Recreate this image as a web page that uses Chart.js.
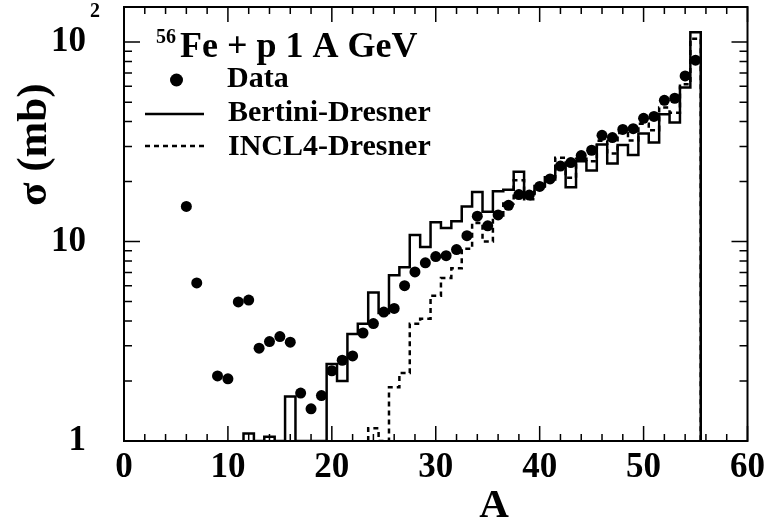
<!DOCTYPE html>
<html><head><meta charset="utf-8">
<script src="https://cdn.jsdelivr.net/npm/chart.js@4.4.0/dist/chart.umd.min.js"></script>
<style>html,body{margin:0;padding:0;background:#fff;}canvas{display:block;}</style>
</head><body>
<canvas id="c" width="771" height="519"></canvas>
<script>
// ---- data ----
const dataA = [6,7,9,10,11,12,13,14,15,16,17,18,19,20,21,22,23,24,25,26,27,28,29,30,31,32,33,34,35,36,37,38,39,40,41,42,43,44,45,46,47,48,49,50,51,52,53,54,55];
const dataSigma = [15.0,6.2,2.12,2.05,4.98,5.09,2.92,3.15,3.34,3.13,1.74,1.45,1.69,2.25,2.54,2.67,3.48,3.88,4.43,4.62,6.01,7.04,7.82,8.41,8.5,9.12,10.7,13.4,12.0,13.6,15.2,17.2,17.1,18.9,20.6,23.9,24.9,27.0,28.7,34.1,33.2,36.5,36.8,41.5,42.4,51.1,52.3,67.7,81.2];

// 0 = bin content below the 1 mb axis minimum
const bertiniA = [12,13,14,15,16,17,18,19,20,21,22,23,24,25,26,27,28,29,30,31,32,33,34,35,36,37,38,39,40,41,42,43,44,45,46,47,48,49,50,51,52,53,54,55];
const bertiniSigma = [1.09,0,1.05,0,1.67,0,0,0,2.43,2.0,3.44,3.87,5.56,4.38,6.77,7.43,10.8,9.4,12.5,11.7,12.65,15.0,17.7,14.1,17.9,18.2,22.4,17.5,19.0,21.0,24.0,18.7,25.3,22.7,30.7,24.6,30.5,27.2,34.8,31.4,43.5,39.5,59.2,112];

const incl4A = [24,25,26,27,28,29,30,31,32,33,34,35,36,37,38,39,40,41,42,43,44,45,46,47,48,49,50,51,52,53,54,55];
const incl4Sigma = [1.16,0,1.86,2.19,3.87,4.1,5.35,6.57,7.34,9.2,12.4,10.0,13.5,15.5,20.3,16.3,18.5,20.5,26.3,20.9,26.0,25.3,32.0,27.6,35.0,32.1,39.0,36.1,47.0,44.3,61.5,104];

// ---- axes ----
const X_MIN = 0, X_MAX = 60;
const Y_MIN = 1, Y_MAX = 150;
const xTickLabels = [0,10,20,30,40,50,60];
const xMinorTicks = [2,4,6,8,12,14,16,18,22,24,26,28,32,34,36,38,42,44,46,48,52,54,56,58];
const yMajorTicks = [1,10,100];
const yMinorTicks = [2,3,4,5,6,7,8,9,20,30,40,50,60,70,80,90];

const SERIF = '"Liberation Serif","Times New Roman",serif';

// histogram outline from bin centres (bin width 1), clipped at the axis minimum like ROOT
function histPoints(A, V) {
  const pts = [{x: A[0] - 0.5, y: Y_MIN}];
  for (let i = 0; i < A.length; i++) {
    const y = Math.max(V[i], Y_MIN);
    pts.push({x: A[i] - 0.5, y: y}, {x: A[i] + 0.5, y: y});
  }
  pts.push({x: A[A.length - 1] + 0.5, y: Y_MIN});
  return pts;
}

const framePlugin = {
  id: 'rootFrame',
  afterDraw(chart) {
    const ctx = chart.ctx, a = chart.chartArea;
    const xs = chart.scales.x, ys = chart.scales.y;
    ctx.save();
    ctx.strokeStyle = '#000';
    ctx.fillStyle = '#000';
    // ticks
    ctx.lineWidth = 1.5;
    ctx.beginPath();
    const xt = (v, len) => { const p = xs.getPixelForValue(v);
      ctx.moveTo(p, a.bottom); ctx.lineTo(p, a.bottom - len);
      ctx.moveTo(p, a.top); ctx.lineTo(p, a.top + len); };
    xTickLabels.forEach(v => xt(v, 15));
    xMinorTicks.forEach(v => xt(v, 7));
    const yt = (v, len) => { const p = ys.getPixelForValue(v);
      ctx.moveTo(a.left, p); ctx.lineTo(a.left + len, p);
      ctx.moveTo(a.right, p); ctx.lineTo(a.right - len, p); };
    yMajorTicks.forEach(v => yt(v, 16));
    yMinorTicks.forEach(v => yt(v, 8));
    ctx.stroke();
    // frame
    ctx.lineWidth = 2;
    ctx.strokeRect(a.left, a.top, a.right - a.left, a.bottom - a.top);

    // y labels
    ctx.font = 'bold 35px ' + SERIF;
    ctx.textAlign = 'right';
    ctx.textBaseline = 'middle';
    ctx.fillText('1', 86, ys.getPixelForValue(1));
    ctx.fillText('10', 86, ys.getPixelForValue(10));
    ctx.fillText('10', 86, ys.getPixelForValue(100));
    ctx.font = 'bold 20px ' + SERIF;
    ctx.textAlign = 'left';
    ctx.textBaseline = 'alphabetic';
    ctx.fillText('2', 90, ys.getPixelForValue(100) - 25);

    // axis titles
    ctx.font = 'bold 41px ' + SERIF;
    ctx.textAlign = 'center';
    ctx.fillText('A', 494, 517);
    ctx.save();
    ctx.translate(46, 206);
    ctx.rotate(-Math.PI / 2);
    ctx.font = 'bold 43px ' + SERIF;
    ctx.textAlign = 'left';
    ctx.fillText('\u03C3 (mb)', 0, 0);
    ctx.restore();

    // header + legend
    ctx.textAlign = 'left';
    ctx.font = 'bold 20px ' + SERIF;
    ctx.fillText('56', 156, 43);
    ctx.font = 'bold 36px ' + SERIF;
    ctx.fillText('Fe + p 1 A GeV', 180, 57);

    ctx.beginPath();
    ctx.arc(176.5, 80, 6.5, 0, Math.PI * 2);
    ctx.fill();
    ctx.lineWidth = 2.5;
    ctx.beginPath(); ctx.moveTo(145, 114); ctx.lineTo(204, 114); ctx.stroke();
    ctx.setLineDash([5, 4]);
    ctx.beginPath(); ctx.moveTo(145, 146); ctx.lineTo(208, 146); ctx.stroke();
    ctx.setLineDash([]);
    ctx.font = 'bold 30px ' + SERIF;
    ctx.fillText('Data', 227, 87);
    ctx.fillText('Bertini-Dresner', 228, 121);
    ctx.fillText('INCL4-Dresner', 228, 155);
    ctx.restore();
  }
};

new Chart(document.getElementById('c'), {
  type: 'line',
  data: {
    datasets: [
      { label: 'Data', type: 'scatter', data: dataA.map((A, i) => ({x: A, y: dataSigma[i]})),
        pointRadius: 5.5, pointHoverRadius: 5.5, pointBackgroundColor: '#000', pointBorderWidth: 0,
        borderColor: '#000', showLine: false },
      { label: 'Bertini-Dresner', data: histPoints(bertiniA, bertiniSigma),
        borderColor: '#000', borderWidth: 2.5, pointRadius: 0, tension: 0, fill: false },
      { label: 'INCL4-Dresner', data: histPoints(incl4A, incl4Sigma),
        borderColor: '#000', borderWidth: 2.5, borderDash: [5, 4], pointRadius: 0, tension: 0, fill: false }
    ]
  },
  options: {
    responsive: false,
    animation: false,
    devicePixelRatio: 1,
    layout: { padding: { left: 0, top: 7, right: 21, bottom: 0 } },
    plugins: { legend: { display: false }, tooltip: { enabled: false } },
    scales: {
      x: {
        type: 'linear', min: X_MIN, max: X_MAX, position: 'bottom',
        afterBuildTicks: (s) => { s.ticks = xTickLabels.map(v => ({value: v})); },
        ticks: { font: { family: SERIF, size: 35, weight: 'bold' }, color: '#000', padding: 6,
                 maxRotation: 0, autoSkip: false },
        grid: { display: false, drawTicks: false },
        border: { display: false },
        afterFit: (s) => { s.height = 78; }
      },
      y: {
        type: 'logarithmic', min: Y_MIN, max: Y_MAX,
        ticks: { display: false },
        grid: { display: false, drawTicks: false },
        border: { display: false },
        afterFit: (s) => { s.width = 124; }
      }
    }
  },
  plugins: [framePlugin]
});
</script>
</body></html>
